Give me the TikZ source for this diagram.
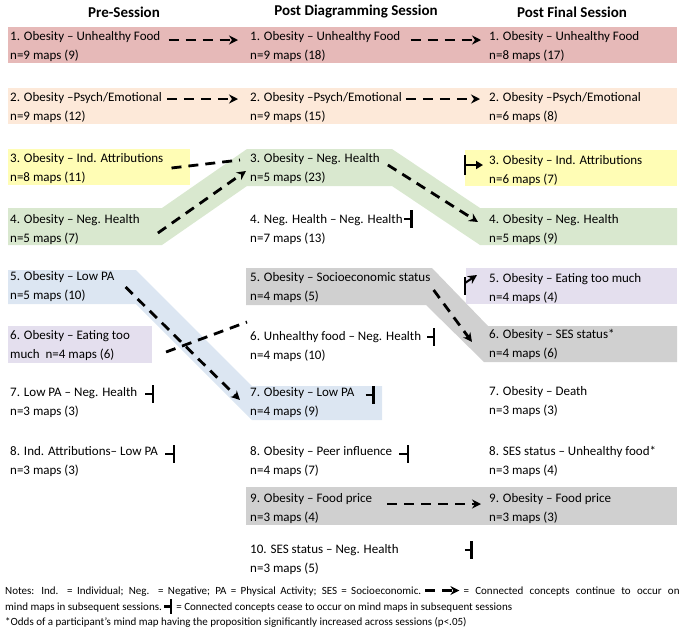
\documentclass[tikz,border=0pt]{standalone}
\usepackage{fontspec}
\setmainfont{Carlito}
\usepackage{tikz}
\usetikzlibrary{arrows.meta,positioning,calc}

\definecolor{pinkband}{HTML}{E6B9B8}
\definecolor{peachband}{HTML}{FDE9D9}
\definecolor{yellowbox}{HTML}{FFFDB5}
\definecolor{greenband}{HTML}{D9E8CF}
\definecolor{blueband}{HTML}{DCE6F2}
\definecolor{grayband}{HTML}{D0D0D0}
\definecolor{purplebox}{HTML}{E4DFEE}

\newcommand{\entryfont}{\fontsize{13}{19}\selectfont}
\newcommand{\headfont}{\fontsize{15}{18}\selectfont\bfseries}
\newcommand{\notefont}{\fontsize{11}{16}\selectfont}

\tikzset{
>={Stealth[length=9pt,width=9pt]},
  entry/.style={
    anchor=base west,
    align=left,
    inner sep=0pt,
    font=\entryfont},
  header/.style={font=\headfont, inner sep=0pt},
  note/.style={anchor=base west, inner sep=0pt, font=\notefont},
  cont/.style={line width=2.8pt, dash pattern=on 10pt off 7pt, ->},
  contline/.style={line width=2.8pt, dash pattern=on 10pt off 7pt},
  cease/.style={line width=2.4pt, -{Bar[width=18pt]}},
}

\begin{document}
\begin{tikzpicture}[x=1pt, y=-1pt]
    \useasboundingbox (0,0) rectangle (683,630);

    % bands
    \fill[pinkband] (8,27) rectangle (677,63);
    \fill[peachband] (8,88) rectangle (677,124);
    \fill[yellowbox] (8,149) rectangle (190,185);
    \fill[yellowbox] (465,150) rectangle (677,186);
    \fill[greenband] (8,208) -- (162,208) -- (247,149) -- (392,149) -- (480,208) -- (677,208)
        -- (677,245) -- (480,245) -- (392,186) -- (247,186) -- (162,245) -- (8,245) -- cycle;
    \fill[blueband] (8,270) -- (136,270) -- (252,386) -- (382,386) -- (382,420)
        -- (252,420) -- (136,304) -- (8,304) -- cycle;
    \fill[grayband] (246,268) -- (432,268) -- (488,326) -- (677,326) -- (677,362)
        -- (484,362) -- (426,305) -- (246,305) -- cycle;
    \fill[purplebox] (8,326) rectangle (152,363);
    \fill[purplebox] (466,268) rectangle (677,304);
    \fill[grayband] (246,487) rectangle (677,525);

    % headers
    \node[header] (hpre) at (124,12) {Pre-Session};
    \node[header] (hdia) at (356,12) {Post Diagramming Session};
    \node[header] (hfin) at (572,12) {Post Final Session};

    % pre-session
    \node[entry] (pre1) at (10,59) {1. Obesity – Unhealthy Food\\n=9 maps (9)};
    \node[entry] (pre2) at (10,120) {2. Obesity –Psych/Emotional\\n=9 maps (12)};
    \node[entry] (pre3) at (10,181) {3. Obesity – Ind. Attributions\\n=8 maps (11)};
    \node[entry] (pre4) at (10,242) {4. Obesity – Neg. Health\\n=5 maps (7)};
    \node[entry] (pre5) at (10,299) {5. Obesity – Low PA\\n=5 maps (10)};
    \node[entry] (pre6) at (10,358) {6. Obesity – Eating too\\much\ \ n=4 maps (6)};
    \node[entry] (pre7) at (10,415) {7. Low PA – Neg. Health\\n=3 maps (3)};
    \node[entry] (pre8) at (10,474) {8. Ind. Attributions– Low PA\\n=3 maps (3)};

    % post diagramming
    \node[entry] (dia1) at (250,59) {1. Obesity – Unhealthy Food\\n=9 maps (18)};
    \node[entry] (dia2) at (250,120) {2. Obesity –Psych/Emotional\\n=9 maps (15)};
    \node[entry] (dia3) at (250,181) {3. Obesity – Neg. Health\\n=5 maps (23)};
    \node[entry] (dia4) at (250,242) {4. Neg. Health – Neg. Health\\n=7 maps (13)};
    \node[entry] (dia5) at (250,300) {5. Obesity – Socioeconomic status\\n=4 maps (5)};
    \node[entry] (dia6) at (250,359) {6. Unhealthy food – Neg. Health\\n=4 maps (10)};
    \node[entry] (dia7) at (250,415) {7. Obesity – Low PA\\n=4 maps (9)};
    \node[entry] (dia8) at (250,474) {8. Obesity – Peer influence\\n=4 maps (7)};
    \node[entry] (dia9) at (250,521) {9. Obesity – Food price\\n=3 maps (4)};
    \node[entry] (dia10) at (250,572) {10. SES status – Neg. Health\\n=3 maps (5)};

    % post final
    \node[entry] (fin1) at (489,59) {1. Obesity – Unhealthy Food\\n=8 maps (17)};
    \node[entry] (fin2) at (489,120) {2. Obesity –Psych/Emotional\\n=6 maps (8)};
    \node[entry] (fin3) at (489,183) {3. Obesity – Ind. Attributions\\n=6 maps (7)};
    \node[entry] (fin4) at (489,242) {4. Obesity – Neg. Health\\n=5 maps (9)};
    \node[entry] (fin5) at (489,301) {5. Obesity – Eating too much\\n=4 maps (4)};
    \node[entry] (fin6) at (489,357) {6. Obesity – SES status*\\n=4 maps (6)};
    \node[entry] (fin7) at (489,414) {7. Obesity – Death\\n=3 maps (3)};
    \node[entry] (fin8) at (489,474) {8. SES status – Unhealthy food*\\n=3 maps (4)};
    \node[entry] (fin9) at (489,521) {9. Obesity – Food price\\n=3 maps (3)};

    % continuing concepts
    \draw[cont] ([xshift=8pt,yshift=19pt]pre1.base east) -- ([xshift=-12pt,yshift=19pt]dia1.base west);
    \draw[cont] ([xshift=10pt,yshift=19pt]dia1.base east) -- ([xshift=-8pt,yshift=19pt]fin1.base west);
    \draw[cont] ([xshift=5pt,yshift=21pt]pre2.base east) -- ([xshift=-12pt,yshift=21pt]dia2.base west);
    \draw[cont] ([xshift=4pt,yshift=21pt]dia2.base east) -- ([xshift=-9pt,yshift=21pt]fin2.base west);
    \draw[contline] ([xshift=8pt,yshift=13pt]pre3.base east) -- ([xshift=-10pt,yshift=21pt]dia3.base west);
    \draw[cont] ([xshift=18pt,yshift=9pt]pre4.base east) -- ([xshift=-4pt,yshift=10pt]dia3.base west);
    \draw[cont] ([xshift=8pt,yshift=16pt]dia3.base east) -- ([xshift=-11pt,yshift=20pt]fin4.base west);
    \draw[cont] ([xshift=11pt,yshift=12pt]pre5.base east) -- ([xshift=-10pt,yshift=15pt]dia7.base west);
    \draw[contline] ([xshift=36pt,yshift=6pt]pre6.base east) -- ([xshift=-3pt,yshift=37pt]dia6.base west);
    \draw[cont] ([xshift=3pt,yshift=10pt]dia5.base east) -- ([xshift=-17pt,yshift=15pt]fin6.base west);
    \draw[cont] ([xshift=15pt,yshift=17pt]dia9.base east) -- ([xshift=-8pt,yshift=17pt]fin9.base west);

    % ceasing concepts
    \draw[cease] ([xshift=1pt,yshift=23pt]dia4.base east) -- ([xshift=10pt,yshift=23pt]dia4.base east);
    \draw[cease] ([xshift=6pt,yshift=22pt]dia6.base east) -- ([xshift=14pt,yshift=22pt]dia6.base east);
    \draw[cease] ([xshift=8pt,yshift=21pt]pre7.base east) -- ([xshift=17pt,yshift=21pt]pre7.base east);
    \draw[cease] ([xshift=7pt,yshift=20pt]pre8.base east) -- ([xshift=17pt,yshift=20pt]pre8.base east);
    \draw[cease] ([xshift=11pt,yshift=20pt]dia7.base east) -- ([xshift=20pt,yshift=20pt]dia7.base east);
    \draw[cease] ([xshift=7pt,yshift=20pt]dia8.base east) -- ([xshift=17pt,yshift=20pt]dia8.base east);
    \draw[cease] ([xshift=66pt,yshift=22pt]dia10.base east) -- ([xshift=74pt,yshift=22pt]dia10.base east);

    % reappearing concepts
    \draw[line width=2.4pt, {Bar[width=20pt]}-{Triangle[length=7pt,width=8pt]}]
        ([xshift=-25pt,yshift=18pt]fin3.base west) -- ([xshift=-6pt,yshift=18pt]fin3.base west);
    \draw[line width=2.4pt] ([xshift=-24pt,yshift=24pt]fin5.base west) -- ([xshift=-24pt,yshift=6pt]fin5.base west);
    \draw[line width=2pt, ->] ([xshift=-24pt,yshift=18pt]fin5.base west) -- ([xshift=-12pt,yshift=26pt]fin5.base west);

    % notes
    \node[note] (notesA) at (5,594) {\makebox[416pt][s]{Notes: Ind. = Individual; Neg. = Negative; PA = Physical Activity; SES = Socioeconomic.}};
    \node[note, base right=42pt of notesA] (notesB) {\makebox[216pt][s]{= Connected concepts continue to occur on}};
    \node[note] (notesC) at (5,610) {mind maps in subsequent sessions.};
    \node[note, base right=14pt of notesC] (notesD) {= Connected concepts cease to occur on mind maps in subsequent sessions};
    \node[note] (notesE) at (5,625) {*Odds of a participant’s mind map having the proposition significantly increased across sessions (p<.05)};
    \draw[cont] ([xshift=4pt,yshift=3.5pt]notesA.base east) -- ([xshift=-4pt,yshift=3.5pt]notesB.base west);
    \draw[line width=2.2pt, -{Bar[width=15pt]}] ([xshift=2pt,yshift=3.5pt]notesC.base east) -- ([xshift=-4pt,yshift=3.5pt]notesD.base west);

\end{tikzpicture}
\end{document}
